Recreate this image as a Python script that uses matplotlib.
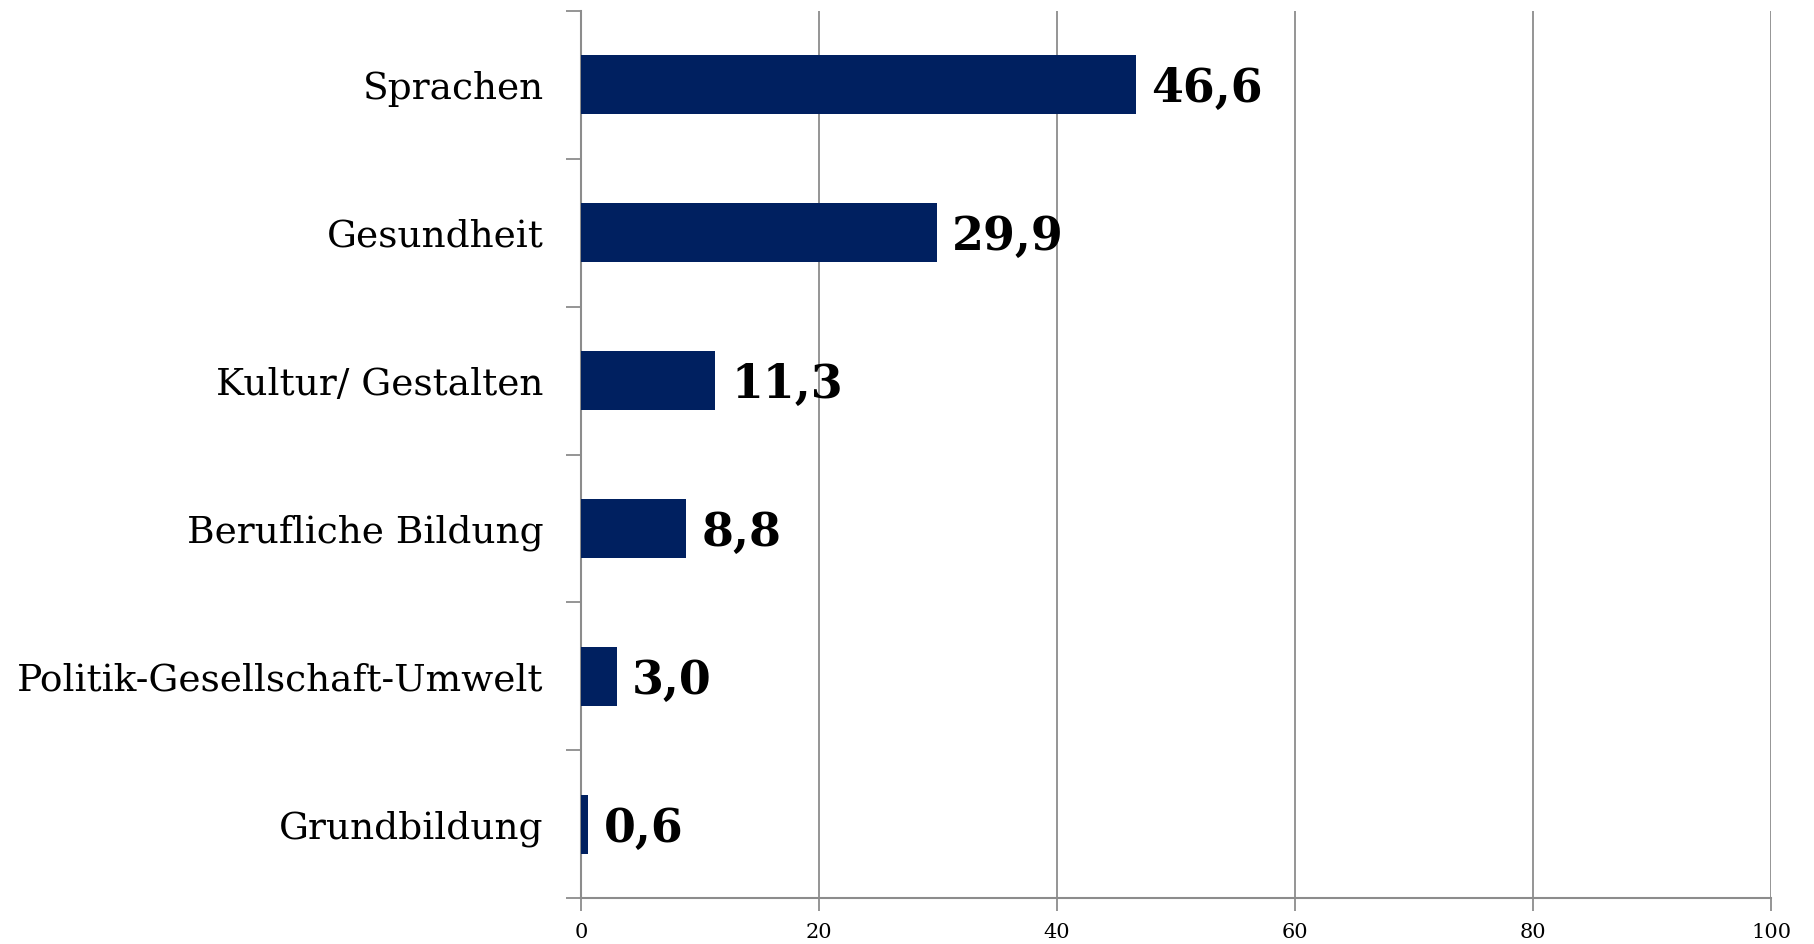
import numpy as np
import matplotlib
matplotlib.use("Agg")
import matplotlib.pyplot as plt

categories = ["Sprachen", "Gesundheit", "Kultur/ Gestalten", "Berufliche Bildung",
              "Politik-Gesellschaft-Umwelt", "Grundbildung"]
values = [46.6, 29.9, 11.3, 8.8, 3.0, 0.6]
xticks = [0, 20, 40, 60, 80, 100]

plt.rcParams["font.family"] = ["DejaVu Serif"]
grey = "#8c8c8c"

fig = plt.figure(figsize=(18.14, 9.44), dpi=100)
ax = fig.add_axes([581 / 1814, 1 - 898 / 944, 1190 / 1814, 887 / 944])

y = np.arange(len(categories))
ax.barh(y, values, height=0.4, color="#002060", zorder=3)
for yi, v in zip(y, values):
    ax.text(v + 1.3, yi + 0.03, f"{v:.1f}".replace(".", ","), va="center", ha="left",
            fontsize=33, fontweight="bold", zorder=4)

ax.set_xlim(0, 100)
ax.set_ylim(len(categories) - 0.5, -0.5)
ax.set_xticks(xticks)
ax.set_xticklabels([str(t) for t in xticks], fontsize=15)
ax.set_yticks(y)
ax.set_yticklabels(categories, fontsize=27)
ax.set_yticks(np.arange(len(categories) + 1) - 0.5, minor=True)
ax.tick_params(axis="y", which="major", length=0, pad=27)
ax.tick_params(axis="y", which="minor", length=11, color=grey, width=1.3)
ax.tick_params(axis="x", length=9, color=grey, width=1.3, pad=9)

ax.grid(axis="x", color=grey, linewidth=1.3, zorder=0)
for s in ["top", "right"]:
    ax.spines[s].set_visible(False)
for s in ["left", "bottom"]:
    ax.spines[s].set_color(grey)
    ax.spines[s].set_linewidth(1.5)

fig.savefig("out.png", dpi=100)
